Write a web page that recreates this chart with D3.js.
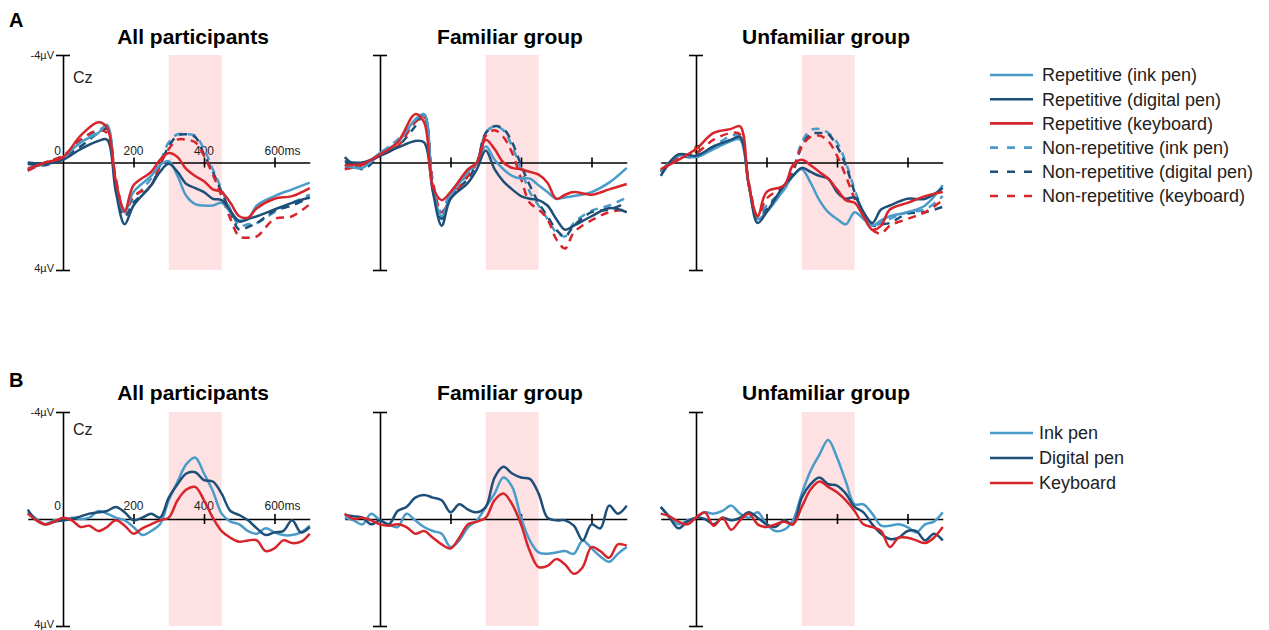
<!DOCTYPE html>
<html>
<head>
<meta charset="utf-8">
<script src="https://cdn.jsdelivr.net/npm/d3@7"></script>
<style>
  body { margin: 0; background: #fff; }
  svg { font-family: "Liberation Sans", Arial, sans-serif; }
</style>
</head>
<body>
<svg id="chart" width="1269" height="630"></svg>
<script>
// ---- data (µV, negative plotted upwards) ----
var groups = ["All participants", "Familiar group", "Unfamiliar group"];

var timesA = [-100, -50, 0, 50, 100, 125, 150, 175, 200, 250, 275, 300, 325, 350, 375, 400, 425, 450, 475, 500, 525, 550, 600, 650, 700];
var timesB = [-100, -75, -50, -25, 0, 25, 50, 75, 100, 125, 150, 175, 200, 225, 250, 275, 300, 325, 350, 375, 400, 425, 450, 475, 500, 525, 550, 575, 600, 625, 650, 675, 700];

var labelsA = ["Repetitive (ink pen)", "Repetitive (digital pen)", "Repetitive (keyboard)",
               "Non-repetitive (ink pen)", "Non-repetitive (digital pen)", "Non-repetitive (keyboard)"];
var labelsB = ["Ink pen", "Digital pen", "Keyboard"];

// A: All participants
var allRepInk     = [0.2, 0.05, -0.2, -0.75, -1.1, -1.4, 0.9, 1.85, 1.1, 0.5, 0.1, -0.05, 0.5, 1.25, 1.55, 1.6, 1.6, 1.5, 1.85, 2.15, 2.1, 1.6, 1.25, 1.0, 0.75];
var allRepDigital = [0, 0.05, -0.1, -0.5, -0.8, -0.85, 1.1, 2.3, 1.6, 0.85, 0.35, 0.05, 0.35, 0.8, 0.95, 1.1, 1.35, 1.4, 1.8, 2.2, 2.1, 2.0, 1.75, 1.5, 1.3];
var allRepKey     = [0.25, 0, -0.2, -1.0, -1.5, -1.3, 0.7, 1.8, 0.85, 0.35, -0.1, -0.35, -0.2, 0.25, 0.5, 0.7, 1.0, 1.1, 1.5, 2.0, 2.05, 1.7, 1.35, 1.25, 0.95];
var allNonInk     = [0.3, 0, -0.25, -0.75, -1.2, -1.3, 0.8, 1.75, 1.35, 0.6, 0.0, -0.75, -1.05, -1.05, -1.0, -0.5, 0.25, 1.0, 1.75, 2.35, 2.3, 2.25, 1.85, 1.5, 1.2];
var allNonDigital = [0.05, 0.1, -0.2, -0.6, -1.1, -1.25, 0.9, 2.0, 1.5, 0.85, 0.1, -0.6, -1.0, -1.05, -0.95, -0.3, 0.35, 1.1, 1.85, 2.5, 2.4, 2.25, 1.8, 1.6, 1.3];
var allNonKey     = [0.3, 0, -0.25, -0.85, -1.2, -1.1, 0.6, 1.85, 1.25, 0.85, 0.1, -0.5, -0.85, -0.85, -0.75, -0.25, 0.45, 1.25, 2.1, 2.75, 2.8, 2.75, 2.1, 2.0, 1.55];

// A: Familiar group
var famRepInk     = [0.1, 0.2, -0.35, -0.75, -1.6, -1.8, 1.0, 2.0, 1.25, 0.35, 0, -0.6, -0.1, 0.25, 0.5, 0.6, 0.6, 0.85, 1.1, 1.35, 1.3, 1.25, 1.1, 0.75, 0.2];
var famRepDigital = [-0.05, 0, -0.25, -0.55, -0.8, -0.75, 1.1, 2.35, 1.35, 0.75, 0.25, -0.45, 0.25, 0.7, 1.0, 1.25, 1.35, 1.4, 1.6, 2.1, 2.5, 2.35, 2.0, 1.7, 1.85];
var famRepKey     = [0.1, 0.05, -0.3, -0.75, -1.8, -1.5, 0.9, 1.4, 1.1, 0.25, 0, -0.85, -0.5, 0, 0.2, 0.25, 0.35, 0.45, 0.75, 1.35, 1.2, 1.1, 1.2, 1.0, 0.8];
var famNonInk     = [0.2, 0.1, -0.35, -0.85, -1.5, -1.8, 0.9, 1.85, 1.1, 0.45, 0, -1.1, -1.35, -1.2, -0.6, 0.25, 1.1, 1.6, 2.1, 2.6, 2.75, 2.25, 1.8, 1.6, 1.3];
var famNonDigital = [-0.2, 0.25, -0.25, -0.6, -1.35, -1.8, 1.0, 2.1, 1.25, 0.6, 0, -1.1, -1.35, -1.25, -0.75, 0.1, 0.85, 1.5, 2.0, 2.5, 2.75, 2.35, 1.85, 1.75, 1.5];
var famNonKey     = [0.25, 0.1, -0.25, -0.6, -1.5, -1.7, 0.7, 1.85, 1.35, 0.5, 0, -1.0, -1.2, -0.95, -0.35, 0.6, 1.5, 1.75, 2.1, 2.85, 3.2, 2.6, 2.15, 1.85, 1.75];

// A: Unfamiliar group
var unfRepInk     = [0.35, -0.25, -0.2, -0.5, -0.8, -0.85, 0.85, 2.1, 1.85, 1.0, 0.5, 0.25, 0.75, 1.4, 1.85, 2.1, 2.3, 1.85, 2.1, 2.35, 2.15, 2.0, 1.85, 1.6, 0.85];
var unfRepDigital = [0.5, -0.3, -0.25, -0.6, -0.85, -0.95, 0.85, 2.25, 1.85, 0.85, 0.5, 0.2, 0.35, 0.5, 0.6, 1.1, 1.35, 1.3, 1.85, 2.25, 1.75, 1.6, 1.35, 1.35, 0.95];
var unfRepKey     = [0.25, -0.1, -0.5, -1.1, -1.25, -1.35, 0.85, 2.0, 1.1, 0.85, 0.1, -0.1, 0.1, 0.35, 0.6, 1.0, 1.4, 1.5, 2.0, 2.5, 2.35, 1.75, 1.5, 1.25, 1.1];
var unfNonInk     = [0.35, -0.25, -0.25, -0.6, -1.0, -1.0, 0.85, 2.0, 1.6, 1.0, 0.35, -0.75, -1.2, -1.25, -1.1, -0.75, 0, 1.0, 1.85, 2.35, 2.25, 2.1, 1.85, 1.75, 1.25];
var unfNonDigital = [0.35, -0.2, -0.2, -0.55, -0.85, -0.95, 0.85, 2.1, 1.75, 0.85, 0.35, -0.6, -1.05, -1.1, -1.05, -0.6, 0.1, 1.1, 1.85, 2.35, 2.3, 2.25, 1.9, 1.85, 1.65];
var unfNonKey     = [0.3, -0.2, -0.35, -0.85, -1.1, -1.05, 0.75, 2.0, 1.35, 0.85, 0.25, -0.6, -0.95, -1.0, -0.8, -0.25, 0.5, 1.35, 2.0, 2.5, 2.65, 2.35, 2.1, 1.85, 1.4];

// B: difference waves
var allInk     = [-0.25, 0, 0.2, 0.05, 0.05, -0.05, 0, -0.05, -0.3, -0.2, -0.05, 0.05, 0.3, 0.6, 0.45, 0.2, -0.7, -1.4, -2.05, -2.3, -1.7, -1.05, -0.2, 0.1, 0.2, 0.45, 0.55, 0.35, 0.5, 0.6, 0.6, 0.5, 0.25];
var allDigital = [-0.35, 0.05, 0.2, 0.1, 0.05, 0, -0.1, -0.2, -0.25, -0.3, -0.45, -0.25, 0.05, -0.05, -0.2, -0.05, -0.8, -1.3, -1.7, -1.75, -1.45, -1.4, -0.95, -0.3, -0.15, 0.05, 0.35, 0.6, 0.5, 0.45, 0.05, 0.5, 0.3];
var allKey     = [-0.2, 0.05, 0.2, 0.1, -0.05, 0.05, 0.3, 0.25, 0.45, 0.3, 0.05, 0.25, 0.55, 0.35, 0.2, 0.05, -0.05, -0.7, -1.1, -1.2, -0.7, -0.05, 0.45, 0.7, 0.85, 0.8, 0.8, 1.2, 1.1, 0.8, 0.9, 0.85, 0.55];

var famInk     = [-0.05, 0.05, 0.2, -0.2, 0.05, 0.2, 0.3, -0.2, 0.05, 0.3, 0.45, 0.55, 1.05, 0.8, 0.3, 0.05, -0.45, -0.95, -1.55, -1.2, -0.05, 0.8, 1.25, 1.3, 1.25, 1.2, 1.3, 0.8, 1.1, 1.4, 1.6, 1.3, 1.05];
var famDigital = [-0.15, -0.1, -0.05, 0.2, 0.05, 0.2, -0.3, -0.45, -0.8, -0.9, -0.8, -0.7, -0.25, -0.55, -0.35, -0.25, -0.45, -1.55, -1.95, -1.7, -1.55, -1.5, -0.95, -0.05, 0.05, 0.05, 0.25, 0.8, 0.2, 0.35, -0.5, -0.2, -0.5];
var famKey     = [-0.2, 0, -0.05, 0.05, 0.2, 0.25, 0.2, 0.3, 0.55, 0.45, 0.7, 0.95, 1.1, 0.7, 0.2, 0.1, -0.05, -0.7, -0.95, -0.55, 0.2, 1.2, 1.8, 1.75, 1.5, 1.7, 2.05, 1.8, 1.05, 1.2, 1.45, 0.95, 1.0];

var unfInk     = [-0.45, -0.1, 0.2, 0.05, -0.05, -0.25, -0.2, -0.3, -0.5, -0.2, -0.05, -0.25, 0.2, 0.45, 0.4, 0.05, -0.95, -1.8, -2.4, -2.95, -2.3, -1.4, -0.55, -0.55, -0.2, 0.25, 0.25, 0.2, 0.3, 0.5, 0.2, 0.1, -0.25];
var unfDigital = [-0.45, -0.05, 0.35, 0.1, -0.05, 0, 0.2, -0.05, 0.05, -0.05, -0.25, -0.05, 0.2, 0.3, 0.05, 0.2, -0.8, -1.3, -1.55, -1.3, -1.25, -0.95, -0.45, -0.25, 0.2, 0.55, 0.75, 0.7, 0.45, 0.45, 0.8, 0.55, 0.8];
var unfKey     = [-0.2, -0.1, 0.1, 0.2, -0.05, -0.25, 0.25, -0.05, 0.4, 0.05, -0.2, 0.2, 0.3, 0.2, 0.1, 0.2, -0.45, -1.1, -1.4, -1.2, -1.0, -0.7, -0.3, 0.2, 0.3, 0.45, 1.05, 0.7, 0.7, 0.8, 0.9, 0.7, 0.3];

var panelA = [
  [allRepInk, allRepDigital, allRepKey, allNonInk, allNonDigital, allNonKey],
  [famRepInk, famRepDigital, famRepKey, famNonInk, famNonDigital, famNonKey],
  [unfRepInk, unfRepDigital, unfRepKey, unfNonInk, unfNonDigital, unfNonKey]
];
var panelB = [
  [allInk, allDigital, allKey],
  [famInk, famDigital, famKey],
  [unfInk, unfDigital, unfKey]
];

// ---- styles ----
var lightBlue = "#4a9bc9", darkBlue = "#1d4f78", red = "#d7252b";
var colorsA = [lightBlue, darkBlue, red, lightBlue, darkBlue, red];
var dashA = [null, null, null, "8,6", "8,6", "8,6"];
var colorsB = [lightBlue, darkBlue, red];
var shade = "#fde1e3";

var svg = d3.select("#chart");

var axisX0 = [63, 380, 696];
var rows = [
  {letter: "A", letterY: 27, titleY: 44, top: 55, bottom: 270, czY: 83, tickLabY: 155,
   times: timesA, panels: panelA, colors: colorsA, dash: dashA},
  {letter: "B", letterY: 387, titleY: 400, top: 412, bottom: 626, czY: 435, tickLabY: 510,
   times: timesB, panels: panelB, colors: colorsB, dash: [null, null, null]}
];

rows.forEach(function(row) {
  svg.append("text")
    .attr("x", 9).attr("y", row.letterY)
    .style("font-size", "20px").style("font-weight", "bold")
    .text(row.letter);

  var y = d3.scaleLinear().domain([-4, 4]).range([row.top, row.bottom]);

  row.panels.forEach(function(series, i) {
    var ax = axisX0[i];
    var x = d3.scaleLinear().domain([-100, 700]).range([ax - 35.25, ax + 246.75]);
    var g = svg.append("g");

    // title
    g.append("text")
      .attr("x", ax + 130).attr("y", row.titleY)
      .attr("text-anchor", "middle")
      .style("font-size", "21px").style("font-weight", "bold")
      .text(groups[i]);

    // 300-450 ms window
    g.append("rect")
      .attr("x", x(300)).attr("width", x(450) - x(300))
      .attr("y", row.top).attr("height", row.bottom - row.top)
      .attr("fill", shade);

    // x axis through zero
    var xg = g.append("g")
      .attr("transform", "translate(0," + y(0) + ")")
      .call(d3.axisBottom(x).tickValues([200, 400, 600]).tickSizeInner(5).tickSizeOuter(0).tickFormat(""));
    xg.select(".domain").attr("stroke-width", 1.6);
    xg.selectAll(".tick line").attr("y1", -5).attr("stroke-width", 1.6);

    // y axis at stimulus onset
    var yg = g.append("g")
      .attr("transform", "translate(" + ax + ",0)")
      .call(d3.axisLeft(y).tickValues([-4, 4]).tickSizeInner(7).tickSizeOuter(0).tickPadding(2)
        .tickFormat(function(d) { return i === 0 ? (d < 0 ? "-4µV" : "4µV") : ""; }));
    yg.select(".domain").attr("stroke-width", 1.6);
    yg.selectAll(".tick line").attr("x1", 7).attr("stroke-width", 1.6);
    yg.selectAll(".tick text").style("font-size", "11px").style("font-family", "Liberation Sans, Arial, sans-serif").attr("fill", "#222")
      .attr("dy", function(d) { return d > 0 ? "0.1em" : "0.32em"; });

    if (i === 0) {
      g.append("text").attr("x", ax + 10).attr("y", row.czY)
        .style("font-size", "16px").attr("fill", "#222").text("Cz");
      g.append("text").attr("x", ax - 2).attr("y", row.tickLabY)
        .attr("text-anchor", "end").style("font-size", "12px").attr("fill", "#222").text("0");
      [200, 400].forEach(function(t) {
        g.append("text").attr("x", x(t)).attr("y", row.tickLabY)
          .attr("text-anchor", "middle").style("font-size", "12px").attr("fill", "#222").text(t);
      });
      g.append("text").attr("x", x(600) - 10).attr("y", row.tickLabY)
        .style("font-size", "12px").attr("fill", "#222").text("600ms");
    }
    if (i === 2 && row.letter === "A") {
      g.append("text").attr("x", ax + 1).attr("y", row.tickLabY - 1)
        .attr("text-anchor", "middle").style("font-size", "12px").attr("fill", "#222").text("0");
    }

    var line = d3.line()
      .x(function(d) { return x(d[0]); })
      .y(function(d) { return y(d[1]); })
      .curve(d3.curveCatmullRom.alpha(0.5));

    // dashed first so solid lines sit on top
    var order = series.map(function(s, k) { return k; });
    order.sort(function(a, b) { return (row.dash[b] ? 1 : 0) - (row.dash[a] ? 1 : 0); });
    order.forEach(function(k) {
      var pts = row.times.map(function(t, j) { return [t, series[k][j]]; });
      g.append("path")
        .datum(pts)
        .attr("d", line)
        .attr("fill", "none")
        .attr("stroke", row.colors[k])
        .attr("stroke-width", 2.5)
        .attr("stroke-dasharray", row.dash[k])
        .attr("stroke-linejoin", "round");
    });
  });
});

// ---- legends ----
function legend(labels, colors, dashes, x0, y0, step, textX) {
  var lg = svg.append("g");
  labels.forEach(function(lab, k) {
    var yy = y0 + k * step;
    lg.append("line")
      .attr("x1", x0).attr("x2", x0 + 43).attr("y1", yy).attr("y2", yy)
      .attr("stroke", colors[k]).attr("stroke-width", 2.6)
      .attr("stroke-dasharray", dashes[k] ? "8,9" : null);
    lg.append("text")
      .attr("x", textX).attr("y", yy).attr("dy", "0.35em")
      .style("font-size", "18px").attr("fill", "#222")
      .text(lab);
  });
}
legend(labelsA, colorsA, dashA, 990, 75, 24.2, 1042);
legend(labelsB, colorsB, [null, null, null], 990, 433, 25, 1039);
</script>
</body>
</html>
